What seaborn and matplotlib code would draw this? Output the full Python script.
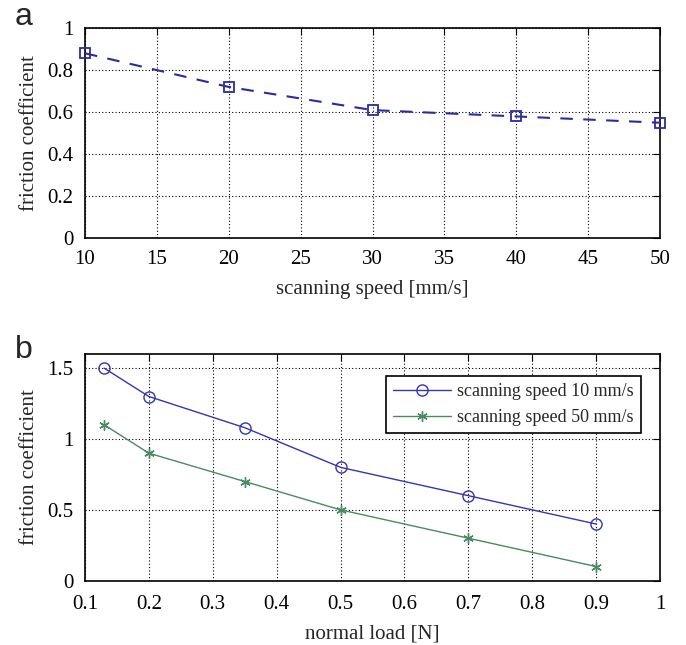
import matplotlib
matplotlib.use("Agg")
import matplotlib.pyplot as plt
import seaborn as sns
import pandas as pd

# Panel a data
speed = [10, 20, 30, 40, 50]
friction_a = [0.88, 0.72, 0.61, 0.58, 0.55]

# Panel b data
load = [0.13, 0.2, 0.35, 0.5, 0.7, 0.9]
friction_10 = [1.5, 1.3, 1.08, 0.8, 0.6, 0.4]
friction_50 = [1.1, 0.9, 0.7, 0.5, 0.3, 0.1]
labels_b = ["scanning speed 10 mm/s", "scanning speed 50 mm/s"]

xticks_a = [10, 15, 20, 25, 30, 35, 40, 45, 50]
yticks_a = [0, 0.2, 0.4, 0.6, 0.8, 1]
xticks_b = [0.1, 0.2, 0.3, 0.4, 0.5, 0.6, 0.7, 0.8, 0.9, 1]
yticks_b = [0, 0.5, 1, 1.5]

sns.set_style("white")
plt.rcParams["font.family"] = ["Liberation Serif", "DejaVu Serif"]

fig = plt.figure(figsize=(6.86, 6.45), dpi=100)
W, H = 686, 645
def ax_rect(l, t, r, b):
    return [l / W, 1 - b / H, (r - l) / W, (b - t) / H]

ax1 = fig.add_axes(ax_rect(85, 28, 660, 238.5))
ax2 = fig.add_axes(ax_rect(85, 354, 660, 580.7))

blue_a = "#2b2ba0"
blue_b = "#3535b0"
green_b = "#4a8a62"
fs = 15

def fmt(v):
    return "%g" % v

def style_ax(ax, xt, yt, xl, yl, xpad):
    ax.set_xlim(xl)
    ax.set_ylim(yl)
    ax.set_xticks(xt)
    ax.set_yticks(yt)
    ax.set_xticklabels([fmt(v) for v in xt], fontsize=fs)
    ax.set_yticklabels([fmt(v) for v in yt], fontsize=fs)
    ax.grid(True, color="black", linestyle=(0, (1, 2)), linewidth=0.8)
    ax.tick_params(direction="in", top=True, right=True, length=5, width=0.8,
                   colors="black")
    ax.tick_params(axis="x", pad=xpad)
    ax.tick_params(axis="y", pad=8.5)
    for sp in ax.spines.values():
        sp.set_visible(True)
        sp.set_color("black")
        sp.set_linewidth(1.2)

df_a = pd.DataFrame({"speed": speed, "friction": friction_a})
sns.lineplot(data=df_a, x="speed", y="friction", ax=ax1, color=blue_a,
             linestyle=(0, (6, 5)), linewidth=1.5, marker="s", markersize=7,
             markerfacecolor="none", markeredgecolor=blue_a, markeredgewidth=1.3,
             clip_on=False, zorder=5)
style_ax(ax1, xticks_a, yticks_a, (10, 50), (0, 1), 8)
ax1.set_xlabel("scanning speed [mm/s]", fontsize=fs, labelpad=8)
ax1.set_ylabel("friction coefficient", fontsize=fs, labelpad=6)

df_b = pd.DataFrame({"load": load * 2,
                     "friction": friction_10 + friction_50,
                     "series": [labels_b[0]] * len(load) + [labels_b[1]] * len(load)})
sns.lineplot(data=df_b[df_b.series == labels_b[0]], x="load", y="friction", ax=ax2,
             color=blue_b, linewidth=1.0, marker="o", markersize=8,
             markerfacecolor="none", markeredgecolor=blue_b, markeredgewidth=1.0,
             label=labels_b[0], clip_on=False, zorder=5)
sns.lineplot(data=df_b[df_b.series == labels_b[1]], x="load", y="friction", ax=ax2,
             color=green_b, linewidth=1.0, marker=(6, 2, 0), markersize=7.5,
             markeredgecolor=green_b, markeredgewidth=1.0,
             label=labels_b[1], clip_on=False, zorder=5)
style_ax(ax2, xticks_b, yticks_b, (0.1, 1), (0, 1.6), 10)
ax2.set_xlabel("normal load [N]", fontsize=fs, labelpad=8)
ax2.set_ylabel("friction coefficient", fontsize=fs, labelpad=6)

leg = ax2.legend(loc="upper right", bbox_to_anchor=((641 - 85) / 575, (580.7 - 376) / 226.7),
                 fontsize=13, frameon=True, fancybox=False, edgecolor="black",
                 framealpha=1, handlelength=3.2, borderpad=0.4, labelspacing=0.5,
                 handletextpad=0.35, borderaxespad=0)
leg.get_frame().set_linewidth(1.2)

fig.text(15 / W, 1 - 25 / H, "a", fontsize=23, family="Liberation Sans", va="baseline", ha="left")
fig.text(15 / W, 1 - 358 / H, "b", fontsize=23, family="Liberation Sans", va="baseline", ha="left")

fig.savefig("out.png", dpi=100)
